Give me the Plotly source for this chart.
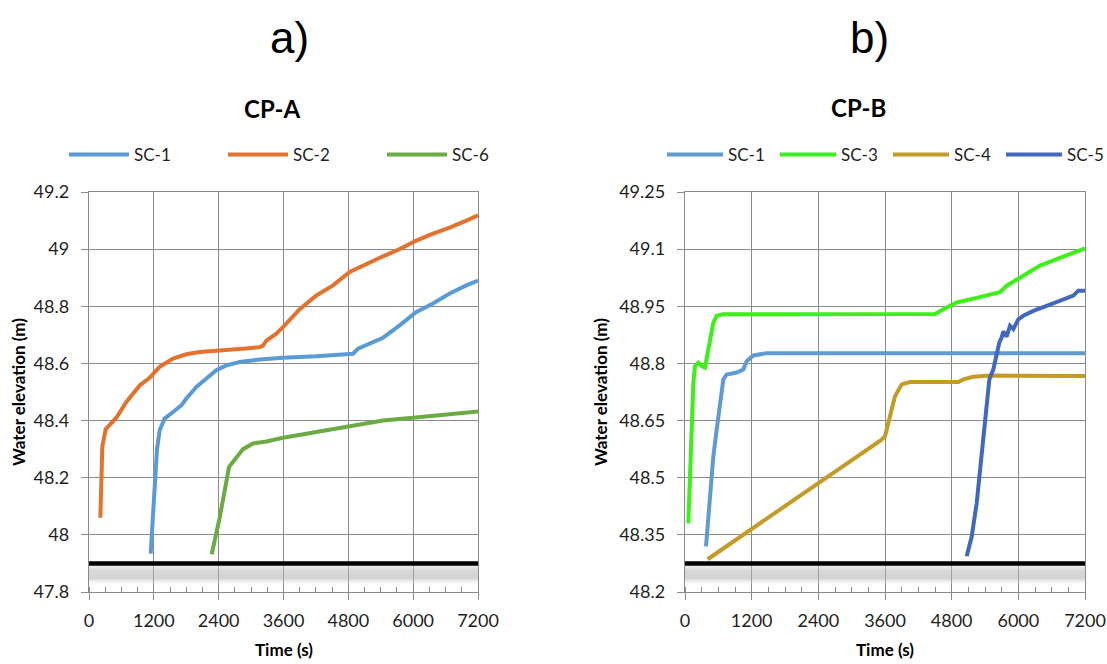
import plotly.graph_objects as go

# ---------------- data: panel a) CP-A ----------------
A_SC1_T = [1141, 1185, 1222, 1259, 1308, 1400, 1555, 1709, 1802, 1987, 2172, 2357, 2542, 2789, 3159,
           3590, 4208, 4825, 4887, 4979, 5133, 5318, 5442, 5750, 6059, 6367, 6676, 6984, 7200]
A_SC1_Y = [47.934, 48.06, 48.21, 48.30, 48.366, 48.407, 48.43, 48.453, 48.477, 48.518, 48.547, 48.576,
           48.593, 48.605, 48.614, 48.62, 48.625, 48.632, 48.634, 48.652, 48.665, 48.68, 48.69, 48.733,
           48.78, 48.81, 48.845, 48.873, 48.89]

A_SC2_T = [210, 225, 247, 309, 383, 506, 691, 938, 1123, 1308, 1555, 1802, 2048, 2542, 2900, 3159,
           3220, 3282, 3467, 3590, 3900, 4208, 4516, 4825, 5133, 5442, 5750, 6059, 6367, 6676, 6984, 7200]
A_SC2_Y = [48.06, 48.20, 48.31, 48.37, 48.385, 48.41, 48.465, 48.523, 48.55, 48.588, 48.617, 48.632,
           48.64, 48.645, 48.652, 48.657, 48.662, 48.68, 48.704, 48.727, 48.79, 48.838, 48.873, 48.92,
           48.949, 48.975, 49.0, 49.03, 49.054, 49.075, 49.1, 49.118]

A_SC6_T = [2271, 2419, 2591, 2727, 2851, 3036, 3282, 3591, 4208, 4794, 5442, 5997, 6614, 7200]
A_SC6_Y = [47.932, 48.06, 48.237, 48.27, 48.30, 48.32, 48.327, 48.34, 48.36, 48.377, 48.40, 48.41,
           48.422, 48.432]

A_GROUND = 47.9

# ---------------- data: panel b) CP-B ----------------
B_SC1_T = [378, 450, 510, 570, 630, 690, 750, 930, 1050, 1110, 1230, 1470, 7200]
B_SC1_Y = [48.32, 48.45, 48.556, 48.626, 48.697, 48.758, 48.771, 48.776, 48.784, 48.806, 48.821,
           48.827, 48.827]

B_SC3_T = [60, 90, 120, 150, 180, 240, 300, 360, 420, 450, 510, 570, 690, 1710, 3000, 4500, 4710,
           4890, 5190, 5670, 5790, 6090, 6390, 6690, 7200]
B_SC3_Y = [48.38, 48.512, 48.644, 48.749, 48.793, 48.802, 48.793, 48.789, 48.837, 48.863, 48.907,
           48.925, 48.929, 48.929, 48.93, 48.93, 48.947, 48.96, 48.97, 48.987, 49.004, 49.03, 49.057,
           49.074, 49.102]

B_SC4_T = [408, 2400, 3540, 3600, 3690, 3780, 3900, 4050, 4920, 5010, 5190, 5490, 7200]
B_SC4_Y = [48.286, 48.485, 48.60, 48.609, 48.661, 48.714, 48.745, 48.751, 48.751, 48.758, 48.765,
           48.768, 48.767]

B_SC5_T = [5070, 5160, 5250, 5340, 5418, 5478, 5550, 5610, 5658, 5700, 5730, 5790, 5850, 5910, 6000,
           6090, 6270, 6510, 6810, 6990, 7080, 7200]
B_SC5_Y = [48.294, 48.345, 48.433, 48.556, 48.67, 48.758, 48.784, 48.82, 48.855, 48.868, 48.884,
           48.87, 48.899, 48.89, 48.916, 48.925, 48.938, 48.951, 48.969, 48.978, 48.991, 48.991]

B_GROUND = 48.275

# ---------------- axes ----------------
X_RANGE = [0, 7200]
X_TICKS = [0, 1200, 2400, 3600, 4800, 6000, 7200]
A_Y_RANGE = [47.8, 49.2]
A_Y_TICKS = [47.8, 48.0, 48.2, 48.4, 48.6, 48.8, 49.0, 49.2]
A_Y_LABELS = ["47.8", "48", "48.2", "48.4", "48.6", "48.8", "49", "49.2"]
B_Y_RANGE = [48.2, 49.25]
B_Y_TICKS = [48.2, 48.35, 48.5, 48.65, 48.8, 48.95, 49.1, 49.25]
B_Y_LABELS = ["48.2", "48.35", "48.5", "48.65", "48.8", "48.95", "49.1", "49.25"]

COLORS = {
    "A_SC1": "#5b9bd5", "A_SC2": "#e2722e", "A_SC6": "#6aab44",
    "B_SC1": "#5f9ad0", "B_SC3": "#3cf018", "B_SC4": "#c39b26", "B_SC5": "#4268be",
}

W, H = 1107, 664
GRID = "#8a8a8a"
FONT = "Lato"
TXT = "#1f1f1f"
LW = 4

fig = go.Figure()


def add_line(t, y, name, color, xa, ya, legend):
    fig.add_trace(go.Scatter(x=t, y=y, mode="lines", name=name, xaxis=xa, yaxis=ya,
                             line=dict(color=color, width=LW), legend=legend))


def add_ground(ground, yrange, xa, ya):
    bottom = yrange[0] + 0.2 * (ground - yrange[0])
    fig.add_trace(go.Scatter(
        x=[X_RANGE[0], X_RANGE[1], X_RANGE[1], X_RANGE[0], X_RANGE[0]],
        y=[ground, ground, bottom, bottom, ground],
        mode="lines", line=dict(width=0), fill="toself", xaxis=xa, yaxis=ya,
        fillgradient=dict(type="vertical", colorscale=[
            [0.0, "rgba(255,255,255,0)"],
            [0.35, "rgba(175,175,175,0.55)"],
            [0.7, "rgba(185,185,185,0.55)"],
            [1.0, "rgba(230,230,230,0.4)"]]),
        showlegend=False, hoverinfo="skip"))
    fig.add_trace(go.Scatter(x=X_RANGE, y=[ground, ground], mode="lines", xaxis=xa, yaxis=ya,
                             line=dict(color="black", width=4.5), showlegend=False,
                             hoverinfo="skip"))


add_ground(A_GROUND, A_Y_RANGE, "x", "y")
add_line(A_SC1_T, A_SC1_Y, "SC-1", COLORS["A_SC1"], "x", "y", "legend")
add_line(A_SC2_T, A_SC2_Y, "SC-2", COLORS["A_SC2"], "x", "y", "legend")
add_line(A_SC6_T, A_SC6_Y, "SC-6", COLORS["A_SC6"], "x", "y", "legend")

add_ground(B_GROUND, B_Y_RANGE, "x2", "y2")
add_line(B_SC1_T, B_SC1_Y, "SC-1", COLORS["B_SC1"], "x2", "y2", "legend2")
add_line(B_SC3_T, B_SC3_Y, "SC-3", COLORS["B_SC3"], "x2", "y2", "legend2")
add_line(B_SC4_T, B_SC4_Y, "SC-4", COLORS["B_SC4"], "x2", "y2", "legend2")
add_line(B_SC5_T, B_SC5_Y, "SC-5", COLORS["B_SC5"], "x2", "y2", "legend2")


def xaxis(domain, anchor):
    return dict(domain=domain, anchor=anchor, range=X_RANGE, tickmode="array", tickvals=X_TICKS,
                ticktext=[str(v) for v in X_TICKS], showgrid=True, gridcolor=GRID, gridwidth=1.4,
                showline=True, linecolor=GRID, linewidth=1.4, mirror=True, ticks="outside",
                ticklen=7, tickwidth=1.4, tickcolor=GRID, zeroline=False, ticklabelstandoff=5,
                minor=dict(tickmode="linear", tick0=0, dtick=300, ticks="inside", ticklen=5,
                           tickwidth=1.3, tickcolor=GRID, showgrid=False),
                tickfont=dict(family=FONT, size=18, color=TXT), fixedrange=True)


def yaxis(domain, anchor, rng, vals, labels):
    return dict(domain=domain, anchor=anchor, range=rng, tickmode="array", tickvals=vals,
                ticktext=labels, showgrid=True, gridcolor=GRID, gridwidth=1.4, showline=True,
                linecolor=GRID, linewidth=1.4, mirror=True, ticks="outside", ticklen=7,
                tickwidth=1.4, tickcolor=GRID, zeroline=False, ticklabelstandoff=8,
                tickfont=dict(family=FONT, size=18, color=TXT), fixedrange=True)


YDOM = [1 - 592 / H, 1 - 192 / H]
XDOM_A = [89 / W, 478 / W]
XDOM_B = [685 / W, 1085 / W]


def px(xp, yp):
    return xp / W, 1 - yp / H


annotations = []


def ann(text, xp, yp, size, bold=False, family=FONT, angle=0):
    x, y = px(xp, yp)
    annotations.append(dict(text=f"<b>{text}</b>" if bold else text, x=x, y=y, xref="paper",
                            yref="paper", xanchor="center", yanchor="middle", showarrow=False,
                            textangle=angle, font=dict(family=family, size=size, color="black")))


ann("a)", 289, 37, 44, family="Liberation Sans")
ann("b)", 870, 37, 44, family="Liberation Sans")
ann("CP-A", 272, 108, 24, bold=True)
ann("CP-B", 858, 107, 24, bold=True)
ann("Water elevation (m)", 18, 392, 17, bold=True, angle=-90)
ann("Water elevation (m)", 600, 392, 17, bold=True, angle=-90)
ann("Time (s)", 284, 649, 17, bold=True)
ann("Time (s)", 885, 649, 17, bold=True)

lx1, ly1 = px(64, 155)
lx2, ly2 = px(662, 155)

fig.update_layout(
    width=W, height=H, margin=dict(l=0, r=0, t=0, b=0, autoexpand=False),
    paper_bgcolor="white", plot_bgcolor="white",
    xaxis=xaxis(XDOM_A, "y"), yaxis=yaxis(YDOM, "x", A_Y_RANGE, A_Y_TICKS, A_Y_LABELS),
    xaxis2=xaxis(XDOM_B, "y2"), yaxis2=yaxis(YDOM, "x2", B_Y_RANGE, B_Y_TICKS, B_Y_LABELS),
    legend=dict(orientation="h", x=lx1, y=ly1, xanchor="left", yanchor="middle",
                entrywidth=84, entrywidthmode="pixels", itemwidth=60,
                font=dict(family=FONT, size=17, color=TXT), bgcolor="rgba(0,0,0,0)"),
    legend2=dict(orientation="h", x=lx2, y=ly2, xanchor="left", yanchor="middle",
                 entrywidth=42, entrywidthmode="pixels", itemwidth=56,
                 font=dict(family=FONT, size=17, color=TXT), bgcolor="rgba(0,0,0,0)"),
    annotations=annotations, showlegend=True,
)

fig.write_html("out.html")
